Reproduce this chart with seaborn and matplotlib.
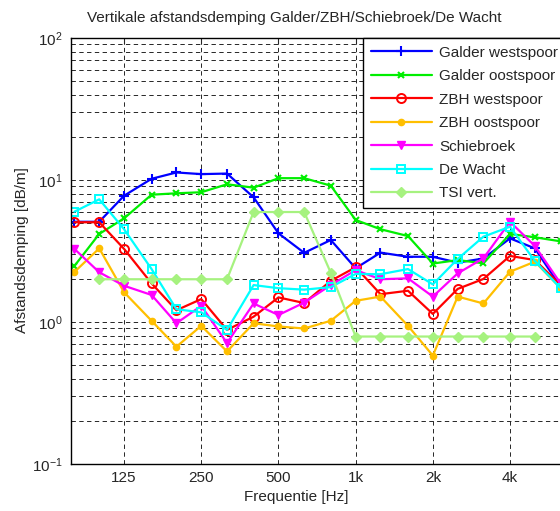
import numpy as np
import pandas as pd
import matplotlib
matplotlib.use("Agg")
import matplotlib.pyplot as plt
from matplotlib.ticker import FixedLocator, NullLocator, LogLocator, NullFormatter
import seaborn as sns

freqs = [80, 100, 125, 160, 200, 250, 315, 400, 500, 630, 800, 1000,
         1250, 1600, 2000, 2500, 3150, 4000, 5000, 6300]

galder_west = [5.08, 5.08, 7.75, 10.2, 11.3, 11.0, 11.1, 7.55, 4.21, 3.07,
               3.78, 2.39, 3.08, 2.88, 2.88, 2.62, 2.80, 3.88, 3.30, 1.77]
galder_oost = [2.48, 4.17, 5.37, 7.88, 8.06, 8.2, 9.33, 8.83, 10.3, 10.3,
               9.12, 5.23, 4.50, 4.03, 2.58, 2.73, 2.59, 4.17, 3.95, 3.70]
zbh_west = [5.04, 5.04, 3.27, 1.87, 1.21, 1.45, 0.88, 1.09, 1.49, 1.36,
            1.95, 2.43, 1.57, 1.66, 1.14, 1.71, 2.01, 2.92, 2.73, 1.82]
zbh_oost = [2.25, 3.30, 1.62, 1.02, 0.67, 0.94, 0.62, 0.98, 0.93, 0.90,
            1.02, 1.41, 1.51, 0.94, 0.58, 1.51, 1.35, 2.26, 2.66, 1.73]
schiebroek = [3.27, 2.24, 1.80, 1.55, 0.98, 1.30, 0.71, 1.35, 1.12, 1.37,
              1.82, 2.32, 2.00, 2.03, 1.51, 2.20, 2.81, 5.08, 3.43, 1.87]
de_wacht = [5.98, 7.31, 4.50, 2.36, 1.23, 1.17, 0.88, 1.82, 1.73, 1.69,
            1.76, 2.18, 2.17, 2.36, 1.84, 2.78, 3.99, 4.69, 2.69, 1.73]
tsi_vert = [np.nan, 2.0, 2.0, 2.0, 2.0, 2.0, 2.0, 5.95, 5.95, 5.95,
            2.22, 0.79, 0.79, 0.79, 0.79, 0.79, 0.79, 0.79, 0.79, np.nan]

labels = ["Galder westspoor", "Galder oostspoor", "ZBH westspoor",
          "ZBH oostspoor", "Schiebroek", "De Wacht", "TSI vert."]
series = [galder_west, galder_oost, zbh_west, zbh_oost, schiebroek, de_wacht, tsi_vert]

xtick_vals = [125, 250, 500, 1000, 2000, 4000]
xtick_labels = ["125", "250", "500", "1k", "2k", "4k"]

title = "Vertikale afstandsdemping Galder/ZBH/Schiebroek/De Wacht"
xlabel = "Frequentie [Hz]"
ylabel = "Afstandsdemping [dB/m]"

sns.set_style("white")
plt.rcParams["font.family"] = ["Liberation Sans", "DejaVu Sans"]
plt.rcParams["mathtext.fontset"] = "custom"
plt.rcParams["mathtext.rm"] = "Liberation Sans"
plt.rcParams["mathtext.it"] = "Liberation Sans:italic"
plt.rcParams["mathtext.bf"] = "Liberation Sans:bold"

styles = [
    dict(color="#0000ff", marker="+", markersize=7, mew=1.5),
    dict(color="#00ee00", marker="x", markersize=4.5, mew=1.5),
    dict(color="#ff0000", marker="o", markersize=6.5, mew=1.4, mfc="none"),
    dict(color="#ffbf00", marker="o", markersize=4.5, mew=1.0),
    dict(color="#ff00ff", marker="v", markersize=6, mew=1.0),
    dict(color="#00ffff", marker="s", markersize=5.5, mew=1.4, mfc="none"),
    dict(color="#a6f27f", marker="D", markersize=5, mew=1.0),
]

W, H = 560, 511
fig = plt.figure(figsize=(W / 100, H / 100), dpi=100)
ax_l, ax_r, ax_t, ax_b = 71, 585, 38, 464
ax = fig.add_axes([ax_l / W, 1 - ax_b / H, (ax_r - ax_l) / W, (ax_b - ax_t) / H])

for lab, vals, st in zip(labels, series, styles):
    df = pd.DataFrame({"f": freqs, "v": vals}).dropna()
    sns.lineplot(data=df, x="f", y="v", ax=ax, label=lab, linewidth=1.6,
                 markeredgecolor=st["color"], **st)

ax.set_xscale("log")
ax.set_yscale("log")
ax.set_xlim(77.6, 7843)
ax.set_ylim(0.1, 100)

ax.xaxis.set_major_locator(FixedLocator(xtick_vals))
ax.set_xticklabels(xtick_labels)
ax.xaxis.set_minor_locator(NullLocator())
ax.yaxis.set_major_locator(LogLocator(base=10, numticks=10))
ax.yaxis.set_minor_locator(LogLocator(base=10, subs=np.arange(2, 10), numticks=20))
ax.yaxis.set_minor_formatter(NullFormatter())

grid_kw = dict(color="0.15", linestyle=(0, (4.5, 3.5)), linewidth=0.7)
ax.grid(True, which="major", axis="both", **grid_kw)
ax.grid(True, which="minor", axis="y", **grid_kw)
ax.set_axisbelow(True)

ax.tick_params(axis="both", which="both", direction="in", labelsize=11, top=True, right=True)
ax.tick_params(axis="both", which="major", length=4)
ax.tick_params(axis="y", which="minor", length=2)
ax.tick_params(axis="x", pad=5)
ax.tick_params(axis="y", pad=6)

for s in ax.spines.values():
    s.set_color("black")
    s.set_linewidth(1.0)

ax.set_xlabel("")
ax.set_ylabel("")
fig.text(296 / W, 1 - 497 / H, xlabel, ha="center", va="center", fontsize=11)
fig.text(22 / W, 1 - 250 / H, ylabel, ha="center", va="center", rotation=90, fontsize=11)
fig.text(294 / W, 1 - 18 / H, title, ha="center", va="center", fontsize=11)

leg = ax.legend(loc="upper left", bbox_to_anchor=(363 / W, 1 - 38 / H),
                bbox_transform=fig.transFigure, borderaxespad=0, fontsize=11,
                frameon=True, fancybox=False, edgecolor="black", framealpha=1,
                handlelength=4.0, handletextpad=0.5, labelspacing=0.62,
                borderpad=0.5)
leg.get_frame().set_linewidth(1.0)

fig.savefig("out.png", dpi=100)
